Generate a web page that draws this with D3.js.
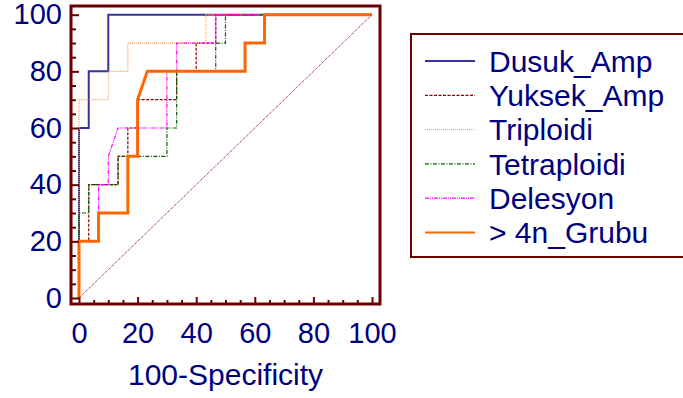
<html>
  <head>
    <script src="https://cdn.jsdelivr.net/npm/d3@7"></script>
    <style>
      body { margin: 0; background: #fff; }
      text { font-family: "Liberation Sans", Arial, sans-serif; }
    </style>
  </head>
  <body>
    <div id="container"></div>
    <script>
      // ROC curves: [100-specificity, sensitivity]
      const dusukAmp = [[0, 0], [0, 60], [3.33, 60], [3.33, 80], [10, 80], [10, 100], [100, 100]];
      const yuksekAmp = [[0, 0], [0, 20], [3.33, 20], [3.33, 40], [13.33, 40], [13.33, 50], [16.67, 50], [16.67, 60],
        [20, 60], [20, 70], [33.33, 70], [33.33, 80], [40, 80], [40, 90], [46.67, 90], [46.67, 100], [100, 100]];
      const triploidi = [[0, 0], [0, 70], [10, 70], [10, 80], [16.67, 80], [16.67, 90], [43.33, 90], [43.33, 100], [100, 100]];
      const tetraploidi = [[0, 0], [0, 30], [3.33, 30], [3.33, 40], [13.33, 40], [13.33, 50], [30, 50], [30, 60],
        [33.33, 60], [33.33, 80], [46.67, 80], [46.67, 90], [50, 90], [50, 100], [100, 100]];
      const delesyon = [[0, 0], [0, 20], [6.67, 20], [6.67, 40], [10, 40], [10, 50], [13.33, 60], [30, 60], [30, 80],
        [33.33, 80], [33.33, 90], [46.67, 90], [46.67, 100], [100, 100]];
      const grubu4n = [[0, 0], [0, 20], [6.67, 20], [6.67, 30], [16.67, 30], [16.67, 50], [20, 50], [20, 70], [23.33, 80],
        [56.67, 80], [56.67, 90], [63.33, 90], [63.33, 100], [100, 100]];
      const diagonal = [[0, 0], [100, 100]];

      const seriesNames = ["Dusuk_Amp", "Yuksek_Amp", "Triploidi", "Tetraploidi", "Delesyon", "> 4n_Grubu"];
      const majorTicks = [0, 20, 40, 60, 80, 100];
      const minorTicks = d3.range(0, 101, 5).filter(d => d % 20 !== 0);

      const W = 683, H = 398;
      const axisColor = "#6b0000", textColor = "#000080";

      const styles = [
        { color: "#333399", width: 2, dash: null },
        { color: "#8b0000", width: 1.2, dash: "3,1.5" },
        { color: "#ffa060", width: 1.2, dash: "1,1" },
        { color: "#006400", width: 1.2, dash: "4,1.5,1,1.5" },
        { color: "#ff00ff", width: 1.2, dash: "4,1,1,1,1,1" },
        { color: "#ff6600", width: 3, dash: null }
      ];
      const series = [dusukAmp, yuksekAmp, triploidi, tetraploidi, delesyon, grubu4n];

      const svg = d3.create("svg").attr("width", W).attr("height", H);

      const x = d3.scaleLinear().domain([0, 100]).range([79, 372]);
      const y = d3.scaleLinear().domain([0, 100]).range([298, 14.7]);
      const frame = { left: 71, top: 6, right: 380, bottom: 304 };

      const line = d3.line().x(d => x(d[0])).y(d => y(d[1]));

      // diagonal reference
      svg.append("path")
        .attr("d", line(diagonal))
        .attr("fill", "none")
        .attr("stroke", "#8b0000")
        .attr("stroke-width", 1)
        .attr("stroke-dasharray", "1,1");

      svg.selectAll(".roc")
        .data(series)
        .join("path")
        .attr("class", "roc")
        .attr("d", d => line(d))
        .attr("fill", "none")
        .attr("stroke", (d, i) => styles[i].color)
        .attr("stroke-width", (d, i) => styles[i].width)
        .attr("stroke-dasharray", (d, i) => styles[i].dash);

      // axes
      const xAxis = svg.append("g")
        .attr("transform", `translate(0,${frame.bottom})`)
        .call(d3.axisBottom(x).tickValues(majorTicks).tickSizeInner(-7).tickSizeOuter(0).tickPadding(18));
      const xMinor = svg.append("g")
        .attr("transform", `translate(0,${frame.bottom})`)
        .call(d3.axisBottom(x).tickValues(minorTicks).tickSizeInner(-4).tickSizeOuter(0).tickFormat(""));
      const yAxis = svg.append("g")
        .attr("transform", `translate(${frame.left},0)`)
        .call(d3.axisLeft(y).tickValues(majorTicks).tickSizeInner(-8).tickSizeOuter(0).tickPadding(9));
      const yMinor = svg.append("g")
        .attr("transform", `translate(${frame.left},0)`)
        .call(d3.axisLeft(y).tickValues(minorTicks).tickSizeInner(-5).tickSizeOuter(0).tickFormat(""));

      [xAxis, xMinor, yAxis, yMinor].forEach(g => {
        g.select(".domain").remove();
        g.selectAll("line").attr("stroke", axisColor).attr("stroke-width", 2);
        g.selectAll("text").attr("fill", textColor).style("font-size", "29px");
      });

      svg.append("rect")
        .attr("x", frame.left).attr("y", frame.top)
        .attr("width", frame.right - frame.left).attr("height", frame.bottom - frame.top)
        .attr("fill", "none").attr("stroke", axisColor).attr("stroke-width", 3);

      svg.append("text")
        .attr("x", (x(0) + x(100)) / 2).attr("y", 385)
        .attr("text-anchor", "middle")
        .attr("fill", textColor).style("font-size", "30px")
        .text("100-Specificity");

      // legend
      const legend = svg.append("g");
      legend.append("rect")
        .attr("x", 411).attr("y", 34).attr("width", 290).attr("height", 223)
        .attr("fill", "#fff").attr("stroke", axisColor).attr("stroke-width", 2);
      const rows = legend.selectAll(".row")
        .data(seriesNames)
        .join("g")
        .attr("class", "row")
        .attr("transform", (d, i) => `translate(0,${61 + i * 34.3})`);
      rows.append("line")
        .attr("x1", 425).attr("x2", 475)
        .attr("stroke", (d, i) => styles[i].color)
        .attr("stroke-width", (d, i) => Math.min(styles[i].width, 2))
        .attr("stroke-dasharray", (d, i) => styles[i].dash);
      rows.append("text")
        .attr("x", 489).attr("dy", "0.36em")
        .attr("fill", textColor).style("font-size", "30px")
        .text(d => d);

      container.append(svg.node());
    </script>
  </body>
</html>
